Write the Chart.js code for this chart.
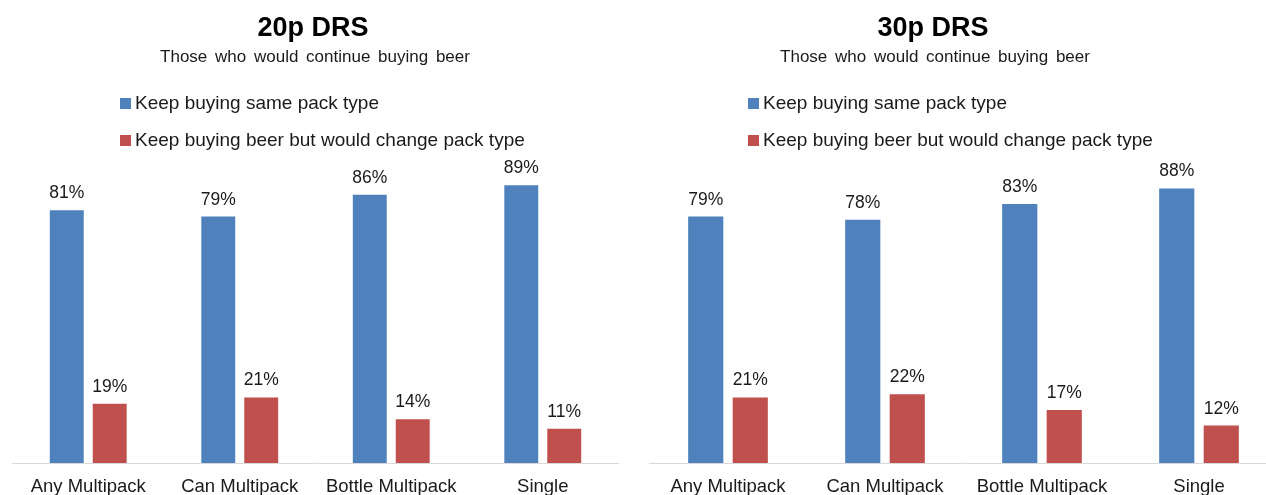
<!DOCTYPE html>
<html>
<head>
<meta charset="utf-8">
<title>DRS pack type</title>
<script src="https://cdn.jsdelivr.net/npm/chart.js@4.4.0/dist/chart.umd.min.js"></script>
<style>
    body {
        margin: 0;
        width: 1266px;
        height: 495px;
        overflow: hidden;
        position: relative;
        background: #fff;
        font-family: "Liberation Sans", Arial, sans-serif;
    }
    .panel { position: absolute; top: 0; width: 640px; height: 495px; }
    .panel canvas { position: absolute; left: 0; top: 0; }
    .title, .subtitle {
        position: absolute;
        transform: translateX(-50%);
        white-space: nowrap;
        line-height: 1;
    }
    .title { top: 14px; font-size: 27px; font-weight: bold; color: #000; }
    .subtitle { top: 48px; font-size: 17px; word-spacing: 3px; color: #1a1a1a; }
    .legend { position: absolute; top: 0; }
    .legend-item { position: absolute; left: 0; white-space: nowrap; font-size: 19px; line-height: 1; color: #1a1a1a; }
    .legend-box { position: absolute; left: 0; top: 5px; width: 11px; height: 11px; }
    .legend-text { position: absolute; left: 15px; top: 0; }
</style>
</head>
<body>

<div class="panel" style="left:0">
    <canvas id="chart-20p" width="640" height="495"></canvas>
    <div class="title" style="left:313px">20p DRS</div>
    <div class="subtitle" style="left:315px">Those who would continue buying beer</div>
    <div class="legend" id="legend-20p" style="left:120px"></div>
</div>

<div class="panel" style="left:640px">
    <canvas id="chart-30p" width="640" height="495"></canvas>
    <div class="title" style="left:293px">30p DRS</div>
    <div class="subtitle" style="left:295px">Those who would continue buying beer</div>
    <div class="legend" id="legend-30p" style="left:108px"></div>
</div>

<script>
// Datos
const categories = ['Any Multipack', 'Can Multipack', 'Bottle Multipack', 'Single'];
const seriesNames = ['Keep buying same pack type', 'Keep buying beer but would change pack type'];
const sameType20p = [81, 79, 86, 89];
const changeType20p = [19, 21, 14, 11];
const sameType30p = [79, 78, 83, 88];
const changeType30p = [21, 22, 17, 12];

const seriesColors = ['#4f81bd', '#c0504d'];
const fontFamily = '"Liberation Sans", Arial, sans-serif';

// Etiquetas de valor encima de cada barra
const barValueLabels = {
    id: 'barValueLabels',
    afterDatasetsDraw(chart) {
        const ctx = chart.ctx;
        ctx.save();
        ctx.font = '17.5px ' + fontFamily;
        ctx.fillStyle = '#1a1a1a';
        ctx.textAlign = 'center';
        ctx.textBaseline = 'alphabetic';
        chart.data.datasets.forEach(function (ds, i) {
            chart.getDatasetMeta(i).data.forEach(function (bar, j) {
                ctx.fillText(ds.data[j] + '%', bar.x, bar.y - 12);
            });
        });
        ctx.restore();
    }
};

// Leyenda en HTML a partir de los datasets del gráfico
function buildLegend(chart, legendId) {
    const box = document.getElementById(legendId);
    const tops = [93, 130];
    chart.data.datasets.forEach(function (ds, i) {
        const item = document.createElement('div');
        item.className = 'legend-item';
        item.style.top = tops[i] + 'px';
        item.innerHTML = '<span class="legend-box" style="background:' + ds.backgroundColor +
            '"></span><span class="legend-text">' + ds.label + '</span>';
        box.appendChild(item);
    });
}

function crearGrafico(canvasId, legendId, sameData, changeData, padLeft, padRight) {
    const ctx = document.getElementById(canvasId).getContext('2d');
    const chart = new Chart(ctx, {
        type: 'bar',
        data: {
            labels: categories,
            datasets: [{
                label: seriesNames[0],
                data: sameData,
                backgroundColor: seriesColors[0]
            }, {
                label: seriesNames[1],
                data: changeData,
                backgroundColor: seriesColors[1]
            }]
        },
        options: {
            responsive: false,
            devicePixelRatio: 1,
            animation: false,
            categoryPercentage: 0.567,
            barPercentage: 0.79,
            layout: {
                padding: { left: padLeft, right: padRight, top: 151, bottom: 0 }
            },
            scales: {
                y: {
                    display: false,
                    min: 0,
                    max: 100
                },
                x: {
                    grid: { display: false },
                    border: { display: true, color: '#d9d9d9', width: 1 },
                    ticks: {
                        padding: 5,
                        color: '#1a1a1a',
                        font: { family: fontFamily, size: 18.5 }
                    },
                    afterFit: function (scale) {
                        scale.height = 32;
                    }
                }
            },
            plugins: {
                legend: { display: false },
                tooltip: { enabled: false }
            }
        },
        plugins: [barValueLabels]
    });
    buildLegend(chart, legendId);
    return chart;
}

crearGrafico('chart-20p', 'legend-20p', sameType20p, changeType20p, 12.5, 21.5);
crearGrafico('chart-30p', 'legend-30p', sameType30p, changeType30p, 9.5, 2.5);
</script>
</body>
</html>
